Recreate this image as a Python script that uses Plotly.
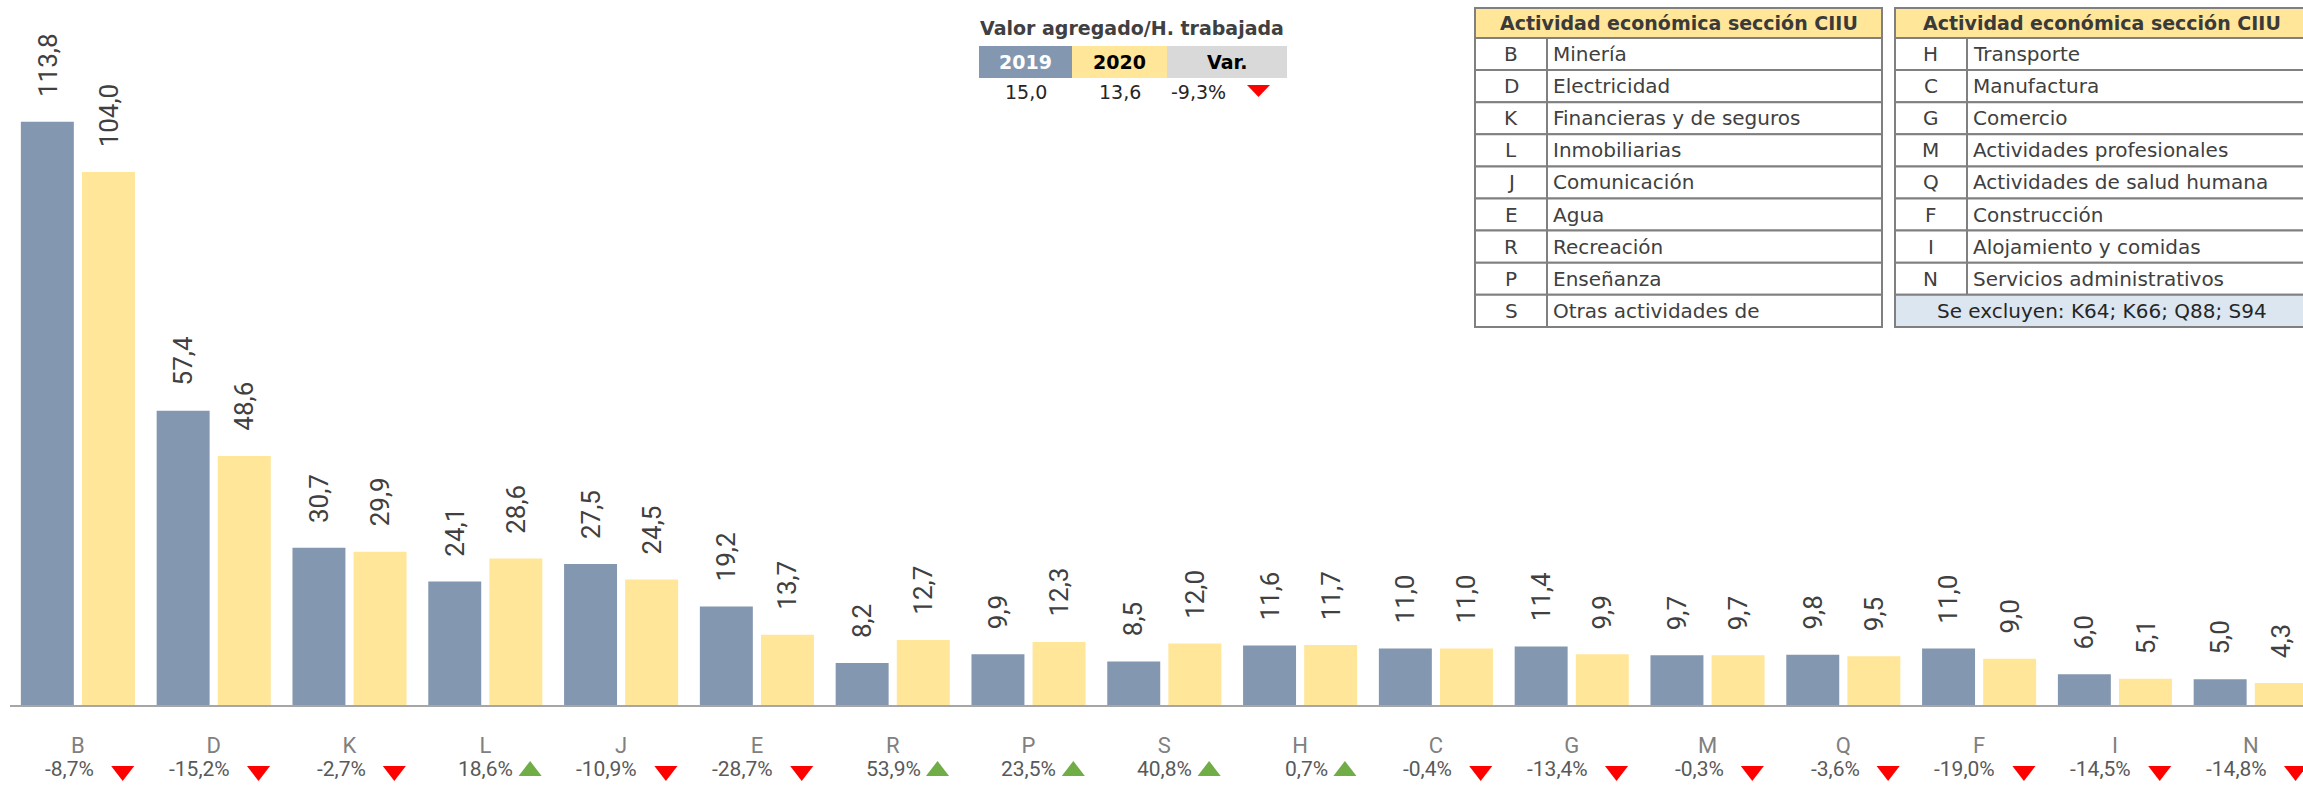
import plotly.graph_objects as go

# ---------------- data ----------------
categories = ["B", "D", "K", "L", "J", "E", "R", "P", "S", "H", "C", "G", "M", "Q", "F", "I", "N"]
values_2019 = [113.8, 57.4, 30.7, 24.1, 27.5, 19.2, 8.2, 9.9, 8.5, 11.6, 11.0, 11.4, 9.7, 9.8, 11.0, 6.0, 5.0]
values_2020 = [104.0, 48.6, 29.9, 28.6, 24.5, 13.7, 12.7, 12.3, 12.0, 11.7, 11.0, 9.9, 9.7, 9.5, 9.0, 5.1, 4.3]
variation_pct = [-8.7, -15.2, -2.7, 18.6, -10.9, -28.7, 53.9, 23.5, 40.8, 0.7, -0.4, -13.4, -0.3, -3.6, -19.0, -14.5, -14.8]

summary_title = "Valor agregado/H. trabajada"
summary_headers = ["2019", "2020", "Var."]
summary_values = [15.0, 13.6]
summary_var = -9.3

table_title = "Actividad económica sección CIIU"
table1_codes = ["B", "D", "K", "L", "J", "E", "R", "P", "S"]
table1_names = ["Minería", "Electricidad", "Financieras y de seguros", "Inmobiliarias",
                "Comunicación", "Agua", "Recreación", "Enseñanza", "Otras actividades de"]
table2_codes = ["H", "C", "G", "M", "Q", "F", "I", "N"]
table2_names = ["Transporte", "Manufactura", "Comercio", "Actividades profesionales",
                "Actividades de salud humana", "Construcción", "Alojamiento y comidas",
                "Servicios administrativos"]
table2_footer = "Se excluyen: K64; K66; Q88; S94"

# ---------------- styling ----------------
W, H = 2303, 785
FONT = "Roboto"
TFONT = "DejaVu Sans"
C2019 = "#8497B0"
C2020 = "#FFE699"
UP = "#70AD47"
DOWN = "#FF0000"
BOTTOM_STRIP = 80
PX_PER_UNIT = 5.126


def fmt(v):
    return f"{v:.1f}".replace(".", ",")


def px(x):
    return x / W


def py(y):
    return 1 - y / H


x_idx = list(range(len(categories)))
n = len(categories)

fig = go.Figure()
fig.add_bar(x=x_idx, y=values_2019, name="2019", marker=dict(color=C2019, line=dict(width=0)),
            width=0.39, offset=-0.42, hoverinfo="skip")
fig.add_bar(x=x_idx, y=values_2020, name="2020", marker=dict(color=C2020, line=dict(width=0)),
            width=0.39, offset=0.03, hoverinfo="skip")

is_up = [v > 0 for v in variation_pct]
fig.add_scatter(
    x=[i + 0.33 for i in x_idx], y=[14] * n, yaxis="y2", mode="markers",
    marker=dict(symbol=["triangle-up" if u else "triangle-down" for u in is_up],
                color=[UP if u else DOWN for u in is_up], size=20, line=dict(width=0)),
    cliponaxis=False, hoverinfo="skip",
)

annotations = []
# value labels above bars
for i in x_idx:
    for v, dx in ((values_2019[i], -0.225), (values_2020[i], 0.225)):
        annotations.append(dict(x=i + dx, y=v, xref="x", yref="y", text=fmt(v), textangle=-90,
                                xanchor="center", yanchor="bottom", yshift=23, showarrow=False,
                                font=dict(family=FONT, size=26, color="#404040")))
# variation percentages
for i in x_idx:
    annotations.append(dict(x=i + (0.22 if is_up[i] else 0.135), y=16, xref="x", yref="y2",
                            text=f"{fmt(variation_pct[i])}%", xanchor="right", yanchor="middle",
                            showarrow=False, font=dict(family=FONT, size=21, color="#595959")))

shapes = []

# ---------------- summary table ----------------
annotations.append(dict(x=px(1132), y=py(28), xref="paper", yref="paper", text=f"<b>{summary_title}</b>",
                        showarrow=False, xanchor="center", yanchor="middle",
                        font=dict(family=TFONT, size=19, color="#404040")))
cells = [(979, 1072, C2019, "white"), (1072, 1167, C2020, "black"), (1167, 1287, "#D9D9D9", "black")]
for (x0, x1, fill, tc), label in zip(cells, summary_headers):
    shapes.append(dict(type="rect", xref="paper", yref="paper", x0=px(x0), x1=px(x1), y0=py(78), y1=py(46),
                       fillcolor=fill, line=dict(width=0), layer="above"))
    annotations.append(dict(x=px((x0 + x1) / 2), y=py(62), xref="paper", yref="paper", text=f"<b>{label}</b>",
                            showarrow=False, xanchor="center", yanchor="middle",
                            font=dict(family=TFONT, size=19, color=tc)))
for xc, v in zip((1026, 1120), summary_values):
    annotations.append(dict(x=px(xc), y=py(92), xref="paper", yref="paper", text=fmt(v), showarrow=False,
                            xanchor="center", yanchor="middle", font=dict(family=TFONT, size=19, color="#262626")))
annotations.append(dict(x=px(1198), y=py(92), xref="paper", yref="paper", text=f"{fmt(summary_var)}%",
                        showarrow=False, xanchor="center", yanchor="middle",
                        font=dict(family=TFONT, size=19, color="#262626")))
tri_up = summary_var > 0
tx0, tx1, ty0, ty1 = 1247, 1270, 85, 97
if tri_up:
    path = f"M {px(tx0)} {py(ty1)} L {px(tx1)} {py(ty1)} L {px((tx0 + tx1) / 2)} {py(ty0)} Z"
else:
    path = f"M {px(tx0)} {py(ty0)} L {px(tx1)} {py(ty0)} L {px((tx0 + tx1) / 2)} {py(ty1)} Z"
shapes.append(dict(type="path", xref="paper", yref="paper", path=path,
                   fillcolor=UP if tri_up else DOWN, line=dict(width=0)))

# ---------------- code tables ----------------
BORDER = dict(color="#808080", width=2)
HEAD_Y0, HEAD_Y1 = 8, 38
ROW_H = 32.1


def draw_table(x0, xdiv, x1, codes, names, footer=None):
    shapes.append(dict(type="rect", xref="paper", yref="paper", x0=px(x0), x1=px(x1),
                       y0=py(HEAD_Y1), y1=py(HEAD_Y0), fillcolor=C2020, line=BORDER))
    annotations.append(dict(x=px((x0 + x1) / 2), y=py((HEAD_Y0 + HEAD_Y1) / 2), xref="paper",
                            yref="paper", text=f"<b>{table_title}</b>", showarrow=False,
                            xanchor="center", yanchor="middle",
                            font=dict(family=TFONT, size=19, color="#3A3A3A")))
    for k, (c, name) in enumerate(zip(codes, names)):
        ya = HEAD_Y1 + k * ROW_H
        yb = ya + ROW_H
        shapes.append(dict(type="rect", xref="paper", yref="paper", x0=px(x0), x1=px(xdiv),
                           y0=py(yb), y1=py(ya), fillcolor="white", line=BORDER))
        shapes.append(dict(type="rect", xref="paper", yref="paper", x0=px(xdiv), x1=px(x1),
                           y0=py(yb), y1=py(ya), fillcolor="white", line=BORDER))
        annotations.append(dict(x=px((x0 + xdiv) / 2), y=py((ya + yb) / 2), xref="paper", yref="paper",
                                text=c, showarrow=False, xanchor="center", yanchor="middle",
                                font=dict(family=TFONT, size=20, color="#404040")))
        annotations.append(dict(x=px(xdiv + 4), y=py((ya + yb) / 2), xref="paper", yref="paper",
                                text=name, showarrow=False, xanchor="left", yanchor="middle",
                                font=dict(family=TFONT, size=20, color="#404040")))
    if footer:
        k = len(codes)
        ya = HEAD_Y1 + k * ROW_H
        yb = ya + ROW_H
        shapes.append(dict(type="rect", xref="paper", yref="paper", x0=px(x0), x1=px(x1),
                           y0=py(yb), y1=py(ya), fillcolor="#DCE6F1", line=BORDER))
        annotations.append(dict(x=px((x0 + x1) / 2), y=py((ya + yb) / 2), xref="paper", yref="paper",
                                text=footer, showarrow=False, xanchor="center", yanchor="middle",
                                font=dict(family=TFONT, size=20, color="#262626")))


draw_table(1475, 1547, 1882, table1_codes, table1_names)
draw_table(1895, 1967, 2309, table2_codes, table2_names, table2_footer)

plot_h = H - BOTTOM_STRIP
fig.update_layout(
    width=W, height=H, template="none",
    margin=dict(l=0, r=0, t=0, b=0, autoexpand=False),
    paper_bgcolor="white", plot_bgcolor="white",
    barmode="overlay", showlegend=False,
    xaxis=dict(domain=[10 / W, 1], range=[-0.5, 16.385], tickmode="array", tickvals=x_idx,
               ticktext=categories, tickfont=dict(family=FONT, size=22, color="#808080"),
               ticks="", ticklabelstandoff=20, showline=True, linecolor="#A6A6A6", linewidth=2,
               showgrid=False, zeroline=False, automargin=False, fixedrange=True),
    yaxis=dict(domain=[BOTTOM_STRIP / H, 1], range=[0, plot_h / PX_PER_UNIT], visible=False,
               showgrid=False, zeroline=False, automargin=False, fixedrange=True),
    yaxis2=dict(domain=[0, BOTTOM_STRIP / H], range=[0, BOTTOM_STRIP], visible=False, anchor="x",
                showgrid=False, zeroline=False, fixedrange=True),
    shapes=shapes, annotations=annotations,
)

fig.write_html("out.html", config={"displayModeBar": False},
               post_script="document.body.style.margin='0';document.body.style.overflow='hidden';")
